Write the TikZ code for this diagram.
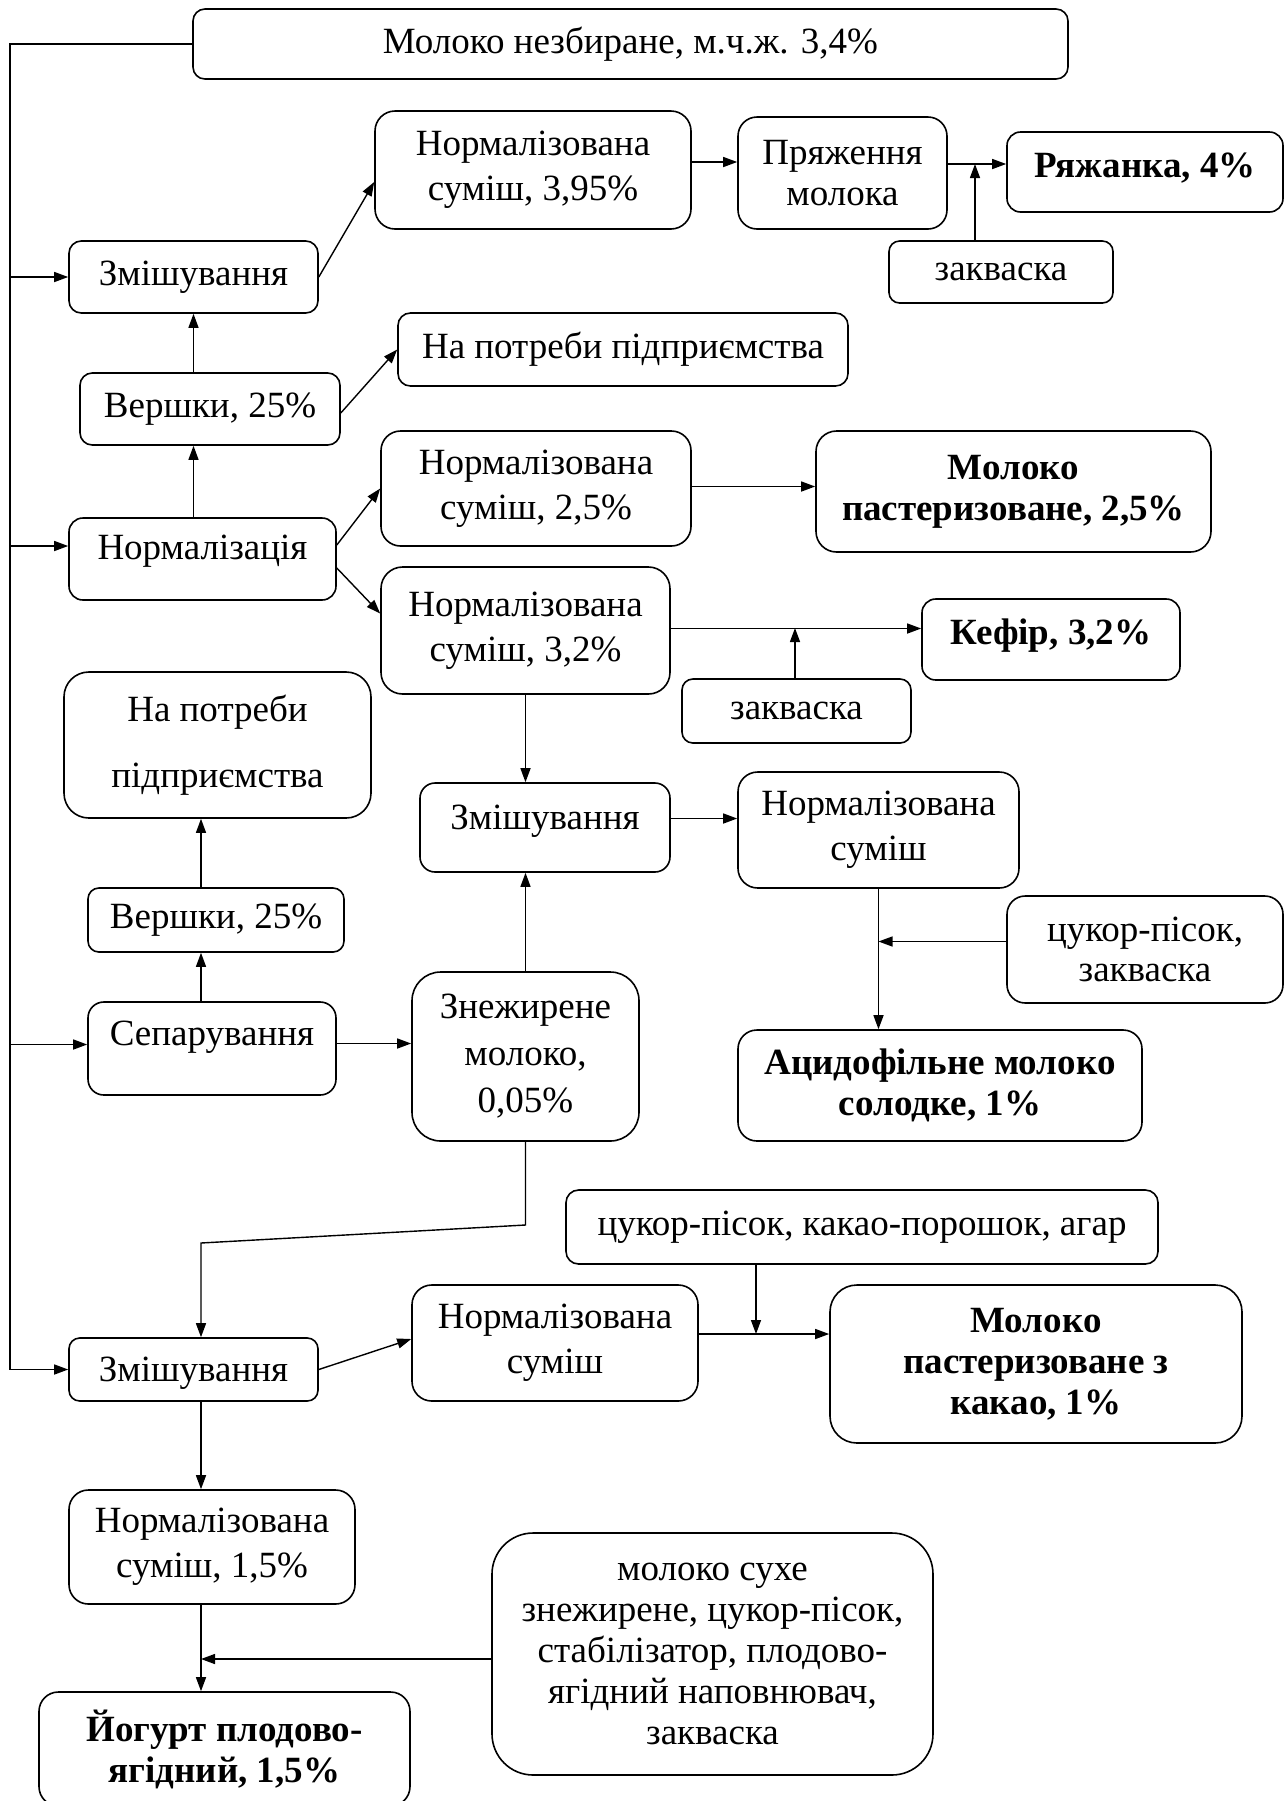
\documentclass[tikz,border=0pt]{standalone}
\usepackage{fontspec}
\setmainfont{Liberation Serif}
\usetikzlibrary{arrows.meta,calc}
\tikzset{
  box/.style={draw=black,line width=0.8pt,inner sep=0pt,align=center,
    font=\fontsize{18.5}{22.5}\selectfont},
  arr/.style={draw=black,line width=0.7pt,-{Triangle[length=7pt,width=5pt]}},
  ln/.style={draw=black,line width=0.7pt},
  tight/.style={font=\fontsize{18.5}{20.5}\selectfont},
  boldt/.style={font=\fontsize{18.5}{20.5}\selectfont\bfseries},
}
\newcommand\bx[7][]{%
  \pgfmathsetmacro\bw{(#5-#3)*0.5}%
  \pgfmathsetmacro\bh{(#6-#4)*0.5}%
  \pgfmathsetmacro\br{min(\bw,\bh)*0.17}%
  \node[box,minimum width=\bw pt,minimum height=\bh pt,rounded corners=\br pt,#1] (#2) at ({(#3+#5)/2},{(#4+#6)/2}) {#7};}
\newcommand\up[2]{\raisebox{#1}[\height][\depth]{#2}}
\begin{document}
\begin{tikzpicture}[x=0.5pt,y=-0.5pt]
\useasboundingbox[fill=white] (0,0) rectangle (1285,1801);
% boxes
\bx{top}{193}{9}{1068}{79}{Молоко незбиране, м.ч.ж. 3,4\%}
\bx{n395}{375}{111}{691}{229}{Нормалізована\\суміш, 3,95\%}
\bx[tight]{pr}{738}{117}{947}{229}{Пряження\\молока}
\bx[boldt]{rj}{1007}{132}{1283}{212}{\up{2pt}{Ряжанка, 4\%}}
\bx{zk1}{889}{241}{1113}{303}{закваска}
\bx{z1}{69}{241}{318}{313}{Змішування}
\bx{np1}{398}{313}{848}{386}{На потреби підприємства}
\bx{v1}{80}{373}{340}{445}{Вершки, 25\%}
\bx{n25}{381}{431}{691}{546}{Нормалізована\\суміш, 2,5\%}
\bx[boldt]{m25}{816}{431}{1211}{552}{Молоко\\пастеризоване, 2,5\%}
\bx{nr}{69}{518}{336}{600}{\up{4pt}{Нормалізація}}
\bx{n32}{381}{567}{670}{694}{Нормалізована\\суміш, 3,2\%}
\bx[boldt]{kf}{922}{599}{1180}{680}{\up{2pt}{Кефір, 3,2\%}}
\bx{zk2}{682}{679}{911}{743}{закваска}
\bx[font=\fontsize{18.5}{33}\selectfont]{np2}{64}{672}{371}{818}{На потреби\\підприємства}
\bx{z2}{420}{783}{670}{872}{\up{3pt}{Змішування}}
\bx{nm2}{738}{772}{1019}{888}{Нормалізована\\суміш}
\bx[font=\fontsize{18.5}{20}\selectfont]{cz}{1007}{896}{1283}{1003}{цукор-пісок,\\закваска}
\bx{v2}{88}{888}{344}{952}{Вершки, 25\%}
\bx{sep}{88}{1002}{336}{1095}{\up{5.5pt}{Сепарування}}
\bx[font=\fontsize{18.5}{23.5}\selectfont]{zn}{412}{972}{639}{1141}{Знежирене\\молоко,\\0,05\%}
\bx[boldt]{ac}{738}{1030}{1142}{1141}{Ацидофільне молоко\\солодке, 1\%}
\bx{ck}{566}{1190}{1158}{1264}{цукор-пісок, какао-порошок, агар}
\bx{z3}{69}{1338}{318}{1401}{\up{-2pt}{Змішування}}
\bx{nm3}{412}{1285}{698}{1401}{Нормалізована\\суміш}
\bx[boldt]{mk}{830}{1285}{1242}{1443}{Молоко\\пастеризоване з\\какао, 1\%}
\bx{n15}{69}{1490}{355}{1604}{Нормалізована\\суміш, 1,5\%}
\bx[tight]{ms}{492}{1533}{933}{1775}{молоко сухе\\знежирене, цукор-пісок,\\стабілізатор, плодово-\\ягідний наповнювач,\\закваска}
\bx[boldt]{yg}{39}{1692}{410}{1806}{Йогурт плодово-\\ягідний, 1,5\%}
% helper coordinates
\coordinate (tx) at (10,0);
\coordinate (cx) at (201,0);
\coordinate (j1) at (975,164);
\coordinate (j2) at (795,628);
\coordinate (j3) at (756,1334);
\coordinate (j4) at (201,1659);
\coordinate (k1) at (525.5,1225);
\coordinate (k2) at (201,1243);
% left trunk
\draw[arr] (top.west) -- (top.west -| tx) |- (z3.west);
\draw[arr] (z1.west -| tx) -- (z1.west);
\draw[arr] ([yshift=6.5pt]nr.west -| tx) -- ([yshift=6.5pt]nr.west);
\draw[arr] ([yshift=2pt]sep.west -| tx) -- ([yshift=2pt]sep.west);
% upper group
\draw[arr] (z1.east) -- ([yshift=-6pt]n395.west);
\draw[arr] ([yshift=4pt]n395.east) -- ([yshift=4pt]n395.east -| pr.west);
\draw[arr] ([yshift=4.5pt]pr.east) -- ([yshift=4.5pt]pr.east -| rj.west);
\draw[arr] (zk1.north -| j1) -- (j1);
\draw[arr] (v1.north -| z1.south) -- (z1.south);
\draw[arr] ([yshift=-2pt]v1.east) -- (np1.west);
\draw[arr] (nr.north -| z1.south) -- (v1.south -| z1.south);
\draw[arr] ([yshift=7pt]nr.east) -- (n25.west);
\draw[arr] ([yshift=-4.5pt]nr.east) -- ([yshift=8.5pt]n32.west);
\draw[arr] ([yshift=1pt]n25.east) -- ([yshift=1pt]n25.east -| m25.west);
\draw[arr] ([yshift=1pt]n32.east) -- ([yshift=1pt]n32.east -| kf.west);
\draw[arr] (zk2.north -| j2) -- (j2);
\draw[arr] (n32.south) -- (n32.south |- z2.north);
\draw[arr] ([yshift=4.5pt]z2.east) -- ([yshift=4.5pt]z2.east -| nm2.west);
\draw[arr] (nm2.south) -- (nm2.south |- ac.north);
\draw[arr] ([yshift=4pt]cz.west) -- ([yshift=4pt]cz.west -| nm2.south);
% separation group
\draw[arr] (v2.north -| cx) -- (np2.south -| cx);
\draw[arr] (sep.north -| cx) -- (v2.south -| cx);
\draw[arr] ([yshift=2.5pt]sep.east) -- ([yshift=2.5pt]sep.east -| zn.west);
\draw[arr] (zn.north) -- (zn.north |- z2.south);
\draw[arr] (zn.south) -- (k1) -- (k2) -- (z3.north -| k2);
% lower group
\draw[arr] (z3.east) -- ([yshift=2pt]nm3.west);
\draw[arr] ([yshift=4.5pt]nm3.east) -- ([yshift=4.5pt]nm3.east -| mk.west);
\draw[arr] (ck.south -| j3) -- (j3);
\draw[arr] (z3.south -| cx) -- (n15.north -| cx);
\draw[arr] (n15.south -| cx) -- (yg.north -| cx);
\draw[arr] (ms.west |- j4) -- (j4);
\end{tikzpicture}
\end{document}
